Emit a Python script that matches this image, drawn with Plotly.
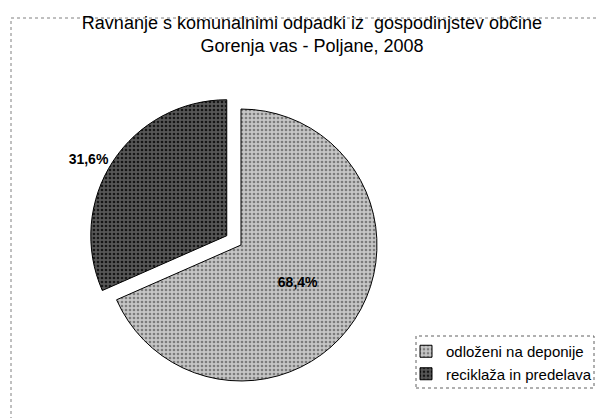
import plotly.graph_objects as go

# Data
categories = ["odloženi na deponije", "reciklaža in predelava"]
values = [68.4, 31.6]
pulls = [0, 0.125]
colors_bg = ["#c6c6c6", "#575757"]
colors_fg = ["#7c7c7c", "#161616"]
title_text = "Ravnanje s komunalnimi odpadki iz  gospodinjstev občine<br>Gorenja vas - Poljane, 2008"

W, H = 604, 418
FONT = "Liberation Sans, Arial, sans-serif"

fig = go.Figure()
fig.add_trace(go.Pie(
    labels=categories,
    values=values,
    sort=False,
    direction="clockwise",
    rotation=0,
    pull=pulls,
    marker=dict(
        colors=colors_bg,
        line=dict(color="#000000", width=1),
        pattern=dict(shape=".", fgcolor=colors_fg, bgcolor=colors_bg, size=4, solidity=0.35),
    ),
    texttemplate="<b>%{percent:.1%}</b>",
    textposition=["inside", "outside"],
    insidetextorientation="horizontal",
    textfont=dict(family=FONT, size=14, color="#000000"),
    hoverinfo="label+percent",
    domain=dict(x=[0.1325, 0.639], y=[0.067, 0.799]),
))

# chart area dotted border (scan edges: top and left)
fig.add_shape(type="line", xref="paper", yref="paper", x0=3/W, x1=1, y0=1-10/H, y1=1-10/H,
              line=dict(color="#808080", width=1, dash="dot"))
fig.add_shape(type="line", xref="paper", yref="paper", x0=3/W, x1=3/W, y0=0, y1=1-10/H,
              line=dict(color="#808080", width=1, dash="dot"))
# legend dotted border
fig.add_shape(type="rect", xref="paper", yref="paper",
              x0=408/W, x1=586/W, y0=1-380/H, y1=1-328/H,
              line=dict(color="#606060", width=1, dash="dot"), fillcolor="rgba(0,0,0,0)")

fig.update_layout(
    width=W, height=H,
    margin=dict(l=0, r=0, t=0, b=0),
    paper_bgcolor="#ffffff",
    plot_bgcolor="#ffffff",
    separators=",.",
    font=dict(family=FONT, color="#000000"),
    title=dict(text=title_text, x=304/W, xanchor="center", y=1-21/H, yanchor="top",
               font=dict(family=FONT, size=18, color="#000000")),
    showlegend=True,
    legend=dict(x=398/W, xanchor="left", y=1-327/H, yanchor="top",
                font=dict(family=FONT, size=15, color="#000000"),
                bgcolor="rgba(0,0,0,0)", borderwidth=0, tracegroupgap=0,
                itemwidth=30),
)

fig.write_html("out.html")
